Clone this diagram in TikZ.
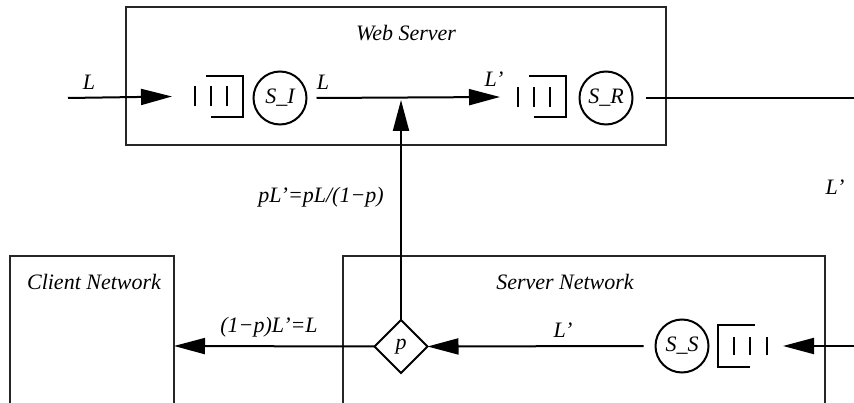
\documentclass[tikz,border=0pt]{standalone}
\usepackage{fontspec}
\setmainfont{Liberation Serif}
\usetikzlibrary{arrows.meta,shapes.geometric}

\tikzset{
  every node/.style={outer sep=0pt, font=\fontsize{22}{26}\selectfont\itshape},
  region/.style={draw=black!85, line width=1.3pt, inner sep=0pt},
  server/.style={circle, draw, line width=2pt, minimum size=53pt, inner sep=0pt},
  queuebox/.style={inner sep=0pt, minimum width=48pt, minimum height=41pt},
  router/.style={diamond, draw, line width=2pt, minimum width=53pt, minimum height=53pt, inner sep=0pt},
  flow/.style={line width=2pt, -{Triangle[length=31pt,width=16pt]}},
  lbl/.style={inner sep=0pt, anchor=center},
}

% queue open on the left, closed on the right (jobs enter from the left)
\newcommand\queueright[1]{%
  \draw[line width=2pt] ([xshift=11pt]#1.north west) -- (#1.north east)
        -- (#1.south east) -- ([xshift=16pt]#1.south west);
  \foreach \dx in {0,16,32}
    \draw[line width=2pt] ([xshift=\dx pt,yshift=-10pt]#1.west) -- ([xshift=\dx pt,yshift=10pt]#1.west);
}
% queue open on the right, closed on the left (jobs enter from the right)
\newcommand\queueleft[1]{%
  \draw[line width=2pt] ([xshift=-12pt]#1.north east) -- (#1.north west)
        -- (#1.south west) -- ([xshift=-17pt]#1.south east);
  \foreach \dx in {0,17,33}
    \draw[line width=2pt] ([xshift=-\dx pt,yshift=-9pt]#1.east) -- ([xshift=-\dx pt,yshift=9pt]#1.east);
}

\begin{document}
\begin{tikzpicture}[x=1pt,y=-1pt]
  \clip (0,0) rectangle (854,403);

  % enclosing regions
  \node[region, minimum width=540pt, minimum height=138pt] (web) at (396,76) {};
  \node[region, minimum width=164pt, minimum height=180pt] (client) at (92,346) {};
  \node[region, minimum width=482pt, minimum height=180pt] (srvnet) at (584,346) {};

  \node[lbl] (webt) at (406,33) {Web Server};
  \node[lbl] (clientt) at (94,282) {Client Network};
  \node[lbl] (srvnett) at (565,282) {Server Network};

  % web server stations
  \node[queuebox] (qi) at (219,96.5) {};
  \node[server] (si) at (280,98) {S\_I};
  \node[queuebox] (qr) at (542,97) {};
  \node[server] (sr) at (606,98) {S\_R};
  \queueright{qi}
  \queueright{qr}

  % server network station and routing point
  \node[queuebox, minimum width=49pt, minimum height=42pt] (qs) at (742.5,346) {};
  \node[server] (ss) at (682,346) {S\_S};
  \queueleft{qs}
  \node[router] (p) at (401,346.5) {p};

  % connectors
  \coordinate (src) at (68,98);
  \coordinate (join) at (401,100);
  \coordinate (loopa) at (880,98);
  \coordinate (loopb) at (880,346);

  \draw[flow] (src) -- ([xshift=-23pt]qi.west);
  \draw[flow] ([xshift=10pt]si.east) -- ([xshift=-18pt]qr.west);
  \draw[flow] (p.north) -- (join);
  \draw[flow] ([xshift=13pt]sr.east) -- (loopa) -- (loopb) -- ([xshift=16pt]qs.east);
  \draw[flow] ([xshift=-12pt]ss.west) -- (p.east);
  \draw[flow] (p.west) -- (client.east);

  % flow labels
  \node[lbl] (l1) at (89,82) {L};
  \node[lbl] (l2) at (323,82) {L};
  \node[lbl] (l3) at (494,79) {L'};
  \node[lbl] (l4) at (321,197) {pL'=pL/(1−p)};
  \node[lbl] (l5) at (835,187) {L'};
  \node[lbl] (l6) at (269,327) {(1−p)L'=L};
  \node[lbl] (l7) at (563,330) {L'};
\end{tikzpicture}
\end{document}
